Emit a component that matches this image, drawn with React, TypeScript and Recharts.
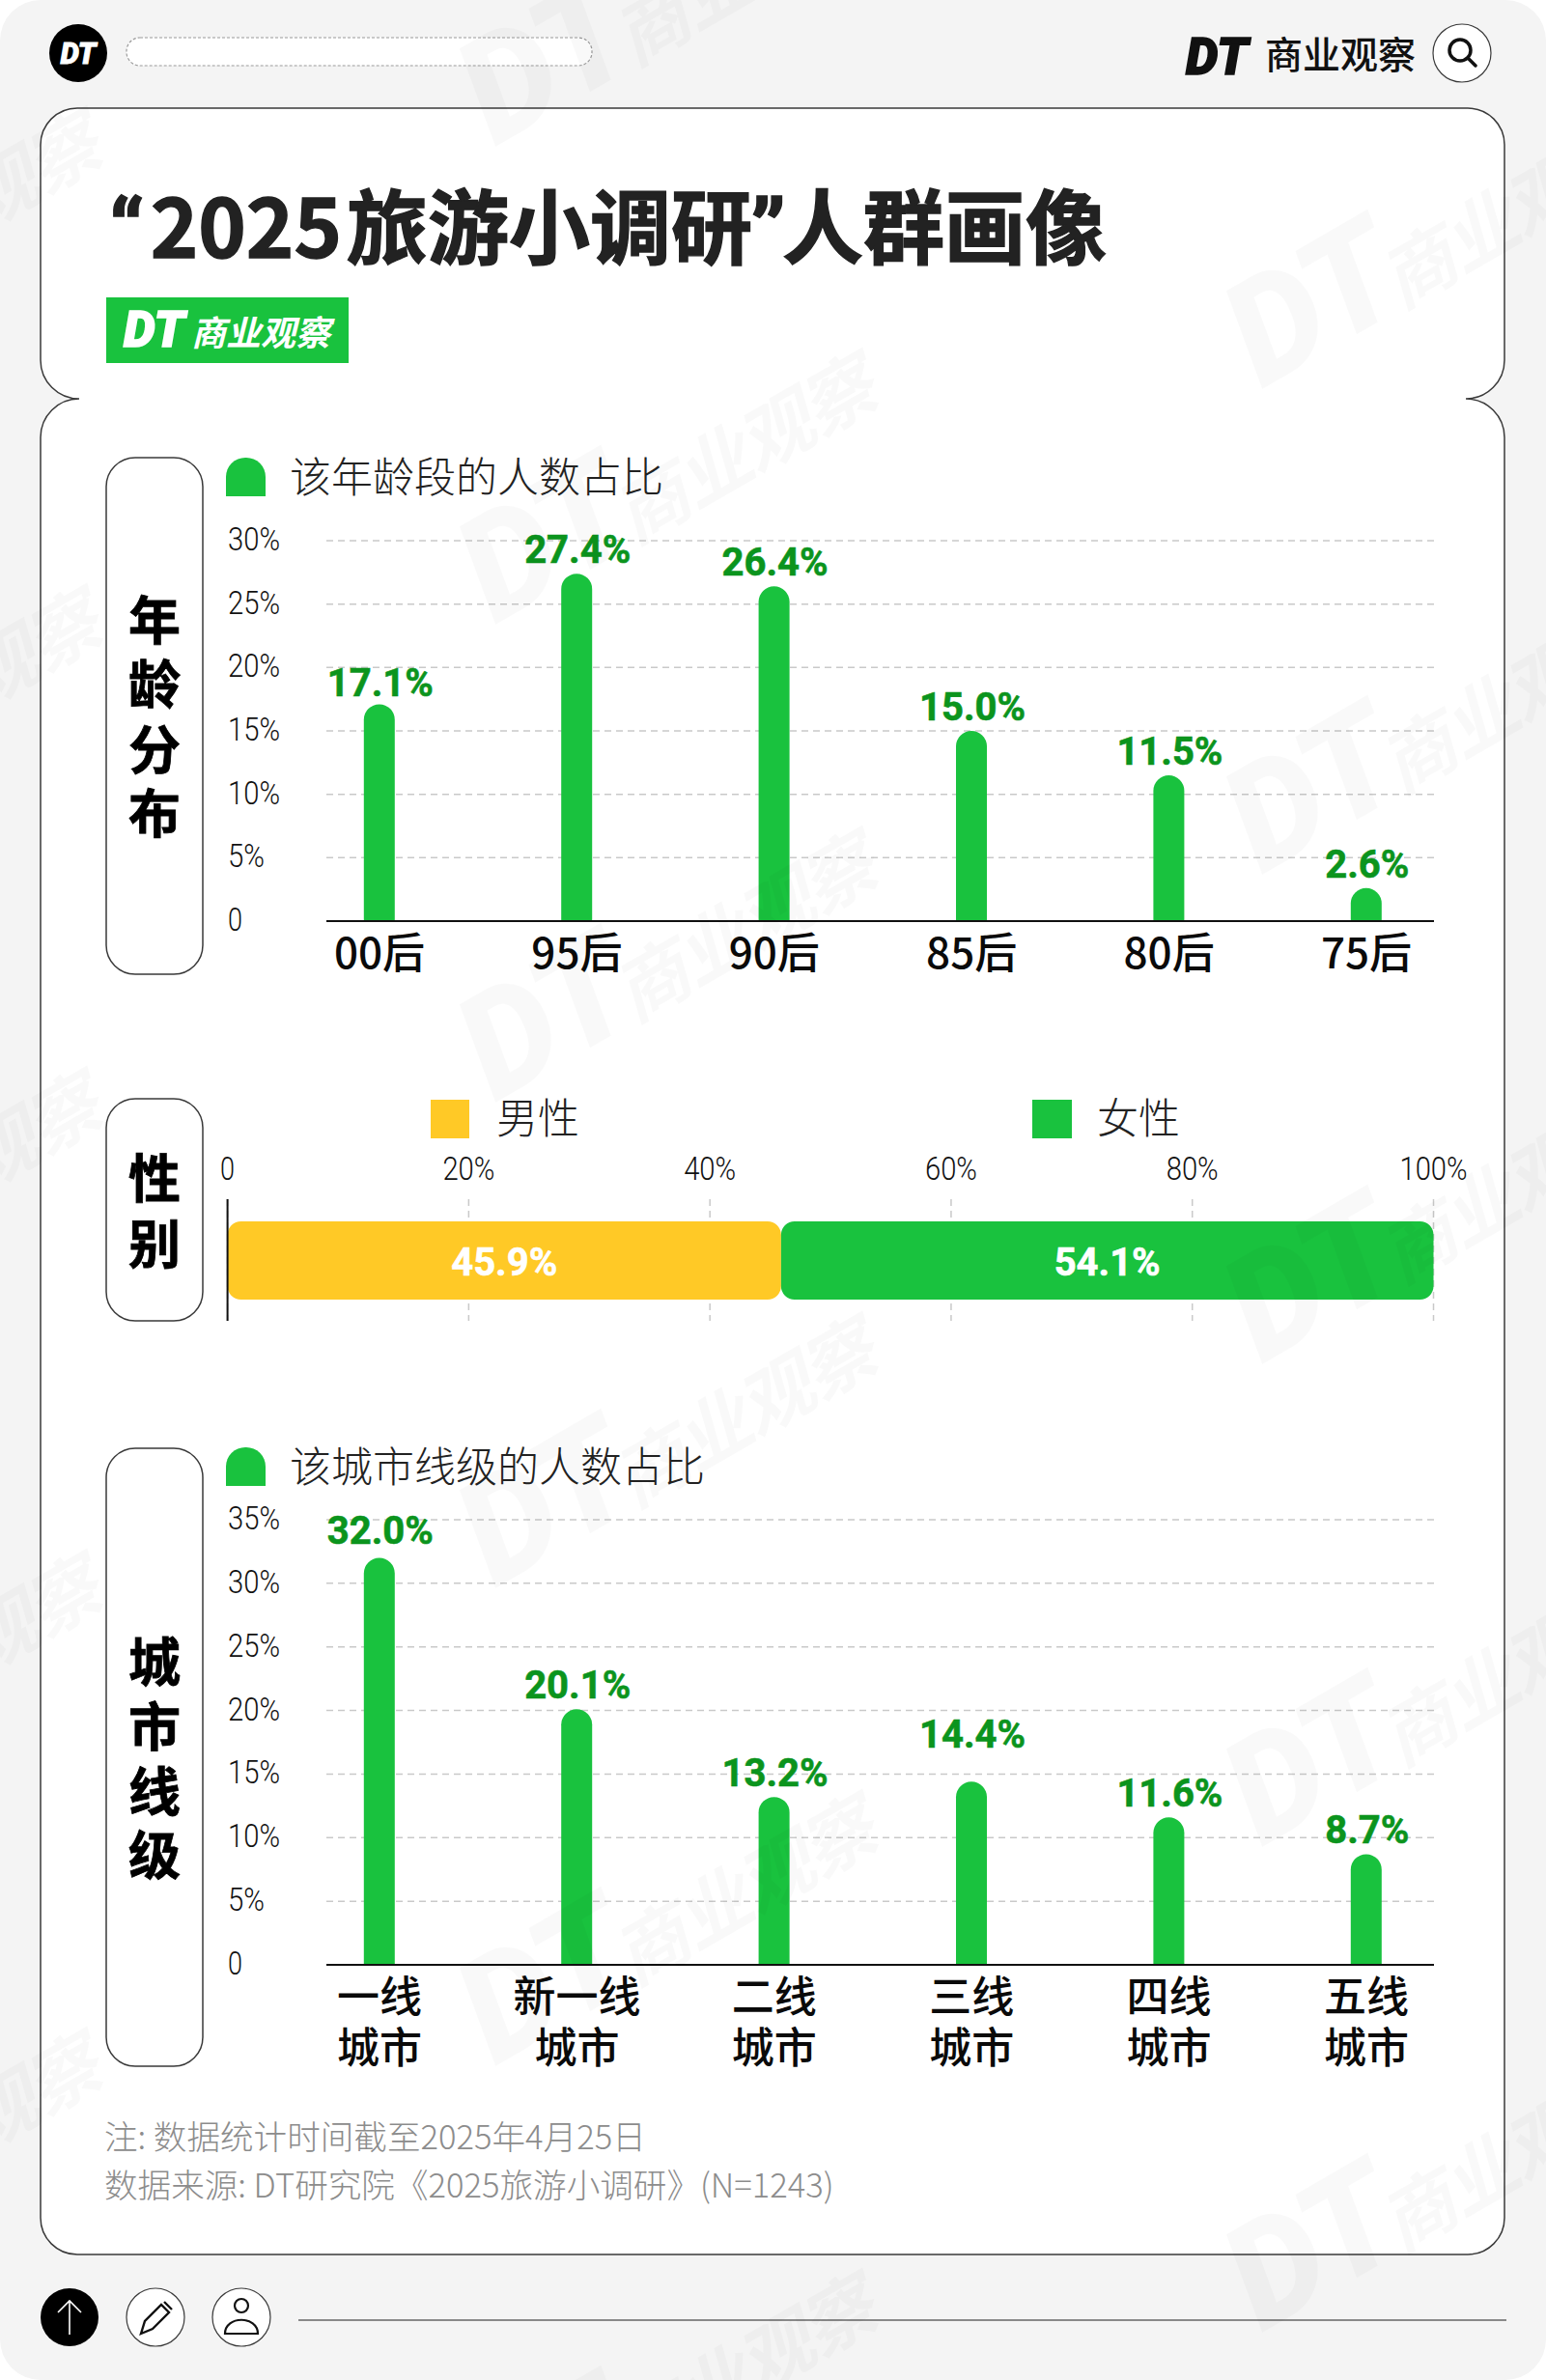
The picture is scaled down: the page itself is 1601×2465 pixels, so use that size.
import React from "react";
import { BarChart, Bar, XAxis, YAxis, CartesianGrid, LabelList } from "recharts";

// ---------- data ----------
const ageCategories = ["00后", "95后", "90后", "85后", "80后", "75后"];
const ageValues = [17.1, 27.4, 26.4, 15.0, 11.5, 2.6];
const ageTicks = [0, 5, 10, 15, 20, 25, 30];
const ageLabelLift = [-3, 0, 0, 0, 0, 0];

const genderNames = ["男性", "女性"];
const genderValues = [45.9, 54.1];
const genderTicks = [0, 20, 40, 60, 80, 100];

const cityLine1 = ["一线", "新一线", "二线", "三线", "四线", "五线"];
const cityLine2 = ["城市", "城市", "城市", "城市", "城市", "城市"];
const cityValues = [32.0, 20.1, 13.2, 14.4, 11.6, 8.7];
const cityTicks = [0, 5, 10, 15, 20, 25, 30, 35];
const cityLabelLift = [4, 0, 0, 24, 0, 0];

const ageData = ageCategories.map((name, i) => ({ name, value: ageValues[i] }));
const cityData = cityLine1.map((name, i) => ({ name, line2: cityLine2[i], value: cityValues[i] }));
const genderData = [{ name: "性别", male: genderValues[0], female: genderValues[1] }];

// ---------- styles ----------
const GREEN = "#19c23e";
const YELLOW = "#ffc926";
const LABEL_GREEN = "#0b941d";
const CJK = '"Noto Sans CJK SC", "Noto Sans", sans-serif';
const NUM = 'Roboto, "Noto Sans", sans-serif';
const THIN_WEIGHT = 300;

const pct = (v: number) => (v === 0 ? "0" : `${v}%`);
const tickLengths: Record<number, number> = { 1: 15, 2: 38, 3: 54, 4: 70 };

const YTick = (props: any) => {
  const s = pct(props.payload.value);
  return (
    <text x={props.x - 102} y={props.y + 10} textAnchor="start" fontFamily={NUM} fontWeight={THIN_WEIGHT}
      fontSize={34} textLength={tickLengths[s.length]} lengthAdjust="spacingAndGlyphs" fill="#111">
      {s}
    </text>
  );
};

const AgeTick = (props: any) => (
  <text x={props.x} y={props.y + 49} textAnchor="middle" fontFamily={CJK} fontWeight={500} fontSize={44} fill="#0a0a0a">
    {props.payload.value}
  </text>
);

const CityTick = (props: any) => (
  <g>
    <text x={props.x} y={props.y + 49} textAnchor="middle" fontFamily={CJK} fontWeight={500} fontSize={44} fill="#0a0a0a">
      {props.payload.value}
    </text>
    <text x={props.x} y={props.y + 102} textAnchor="middle" fontFamily={CJK} fontWeight={500} fontSize={44} fill="#0a0a0a">
      {cityLine2[props.index]}
    </text>
  </g>
);

const GenderTick = (props: any) => {
  const s = pct(props.payload.value);
  return (
    <text x={props.x} y={props.y - 20} textAnchor="middle" fontFamily={NUM} fontWeight={THIN_WEIGHT} fontSize={34}
      textLength={tickLengths[s.length]} lengthAdjust="spacingAndGlyphs" fill="#111">
      {s}
    </text>
  );
};

const makeTopLabel = (lift: number[]) => (props: any) => (
  <text x={props.x + props.width / 2 + 1} y={props.y - 11 - lift[props.index]} textAnchor="middle" fontFamily={NUM}
    fontWeight={700} fontSize={40} stroke={LABEL_GREEN} strokeWidth={0.6} fill={LABEL_GREEN}>
    {Number(props.value).toFixed(1)}%
  </text>
);

const CenterLabel = (props: any) => (
  <text x={props.x + props.width / 2} y={props.y + props.height / 2 + 15} textAnchor="middle" fontFamily={NUM}
    fontWeight={700} fontSize={40} stroke="#fff" strokeWidth={0.6} fill="#fff">
    {Number(props.value).toFixed(1)}%
  </text>
);

const grid = { stroke: "#c9c9c9", strokeDasharray: "7 5", strokeWidth: 1.5 };

function ColumnChart({ top, height, plotTop, plotBottom, data, ticks, max, tick, lift, axisHeight }: any) {
  return (
    <div style={{ position: "absolute", left: 200, top }}>
      <BarChart width={1300} height={height} data={data}
        margin={{ left: 36, right: 15, top: plotTop - top, bottom: height - (plotBottom - top) - axisHeight }}>
        <CartesianGrid vertical={false} {...grid} />
        <XAxis dataKey="name" scale="point" padding={{ left: 55, right: 70 }} height={axisHeight} interval={0}
          tickLine={false} tickSize={0} tickMargin={0} axisLine={{ stroke: "#111", strokeWidth: 2 }} tick={tick} />
        <YAxis type="number" domain={[0, max]} ticks={ticks} width={102} axisLine={false} tickLine={false}
          tickSize={0} tickMargin={0} tick={YTick} interval={0} />
        <Bar dataKey="value" fill={GREEN} barSize={32} radius={[16, 16, 0, 0]} isAnimationActive={false}>
          <LabelList dataKey="value" content={makeTopLabel(lift)} />
        </Bar>
      </BarChart>
    </div>
  );
}

function GenderChart() {
  return (
    <div style={{ position: "absolute", left: 200, top: 1170 }}>
      <BarChart width={1320} height={200} layout="vertical" data={genderData}
        margin={{ left: 34.6, right: 35.5, top: 20, bottom: 2 }}>
        <CartesianGrid horizontal={false} {...grid} />
        <XAxis type="number" orientation="top" domain={[0, 100]} ticks={genderTicks} height={52} interval={0}
          axisLine={false} tickLine={false} tickSize={0} tickMargin={0} tick={GenderTick} />
        <YAxis type="category" dataKey="name" width={1} tick={false} tickLine={false}
          axisLine={{ stroke: "#111", strokeWidth: 2 }} />
        <Bar dataKey="male" stackId="a" fill={YELLOW} barSize={81} radius={14} isAnimationActive={false}>
          <LabelList dataKey="male" content={CenterLabel} />
        </Bar>
        <Bar dataKey="female" stackId="a" fill={GREEN} barSize={81} radius={14} isAnimationActive={false}>
          <LabelList dataKey="female" content={CenterLabel} />
        </Bar>
      </BarChart>
    </div>
  );
}

const LINE = "#3a3a3a";

function Pill({ y, h, chars, centers }: { y: number; h: number; chars: string; centers: number[] }) {
  return (
    <g>
      <rect x={110} y={y} width={100} height={h} rx={30} fill="#fff" stroke={LINE} strokeWidth={1.5} />
      {chars.split("").map((c, i) => (
        <text key={i} x={160} y={centers[i] + 21} textAnchor="middle" fontFamily={CJK} fontWeight={700} fontSize={54}
          stroke="#000" strokeWidth={0.8} fill="#000">
          {c}
        </text>
      ))}
    </g>
  );
}

const Swatch = ({ y }: { y: number }) => (
  <path d={`M234 ${y + 40} V${y + 20} A20 20 0 0 1 254 ${y} H255 A20 20 0 0 1 275 ${y + 20} V${y + 40} Z`} fill={GREEN} />
);

const LegendText = ({ x, y, children }: any) => (
  <text x={x} y={y} fontFamily={CJK} fontWeight={THIN_WEIGHT} fontSize={43} fill="#222">{children}</text>
);

const markRows = [
  [-290, 396], [-290, 891], [-290, 1391], [-290, 1891], [-290, 2386],
  [513, 152], [513, 647], [513, 1142], [513, 1645], [513, 2140], [513, 2636],
  [1307, 403], [1307, 906], [1307, 1413], [1307, 1913], [1307, 2416],
];

function Watermark({ x, y }: { x: number; y: number }) {
  return (
    <g transform={`translate(${x} ${y}) rotate(-30)`} fill="#000" fillOpacity={0.025}>
      <text x={0} y={0} fontFamily={NUM} fontWeight={900} fontStyle="italic" fontSize={150}>DT</text>
      <text x={165} y={0} fontFamily={CJK} fontWeight={700} fontStyle="italic" fontSize={76} letterSpacing={-2}>商业观察</text>
    </g>
  );
}

export default function App() {
  return (
    <div style={{ position: "absolute", left: 0, top: 0, width: 1601, height: 2465, background: "#fff", overflow: "hidden" }}>
      <svg width={1601} height={2465} style={{ position: "absolute", left: 0, top: 0 }}>
        <rect x={0} y={0} width={1601} height={2465} rx={42} fill="#f4f4f4" />

        {/* top bar */}
        <circle cx={81} cy={55} r={30} fill="#000" />
        <text x={81} y={66} textAnchor="middle" fontFamily={NUM} fontWeight={900} fontStyle="italic" fontSize={31}
          stroke="#fff" strokeWidth={0.8} fill="#fff">DT</text>
        <rect x={131} y={39} width={482} height={29} rx={14} fill="#fff" stroke="#9a9a9a" strokeWidth={1.2} strokeDasharray="3 2" />
        <text x={1228} y={77} fontFamily={NUM} fontWeight={900} fontStyle="italic" fontSize={53} letterSpacing={1}
          stroke="#111" strokeWidth={1.6} fill="#111">DT</text>
        <text x={1310} y={71} fontFamily={CJK} fontWeight={500} fontSize={39} fill="#111">商业观察</text>
        <circle cx={1514} cy={55} r={30} fill="#fff" stroke={LINE} strokeWidth={1.2} />
        <circle cx={1512} cy={52} r={11} fill="none" stroke="#111" strokeWidth={3.5} />
        <line x1={1520} y1={60} x2={1528} y2={68} stroke="#111" strokeWidth={3.5} strokeLinecap="round" />

        {/* card */}
        <path
          d="M80 112 H1520 A38 38 0 0 1 1558 150 V373 A40 40 0 0 1 1518 413 A40 40 0 0 1 1558 453 V2297 A38 38 0 0 1 1520 2335 H80 A38 38 0 0 1 42 2297 V453 A40 40 0 0 1 82 413 A40 40 0 0 1 42 373 V150 A38 38 0 0 1 80 112 Z"
          fill="#fff" stroke={LINE} strokeWidth={1.5} />

        {/* title */}
        <text x={113} y={267} fontFamily={CJK} fontWeight={700} fontSize={84} fill="#222" stroke="#222" strokeWidth={1.4}>
          <tspan fontFamily={NUM} fontWeight={900} fontSize={86}>“</tspan>
          <tspan dx={6}>2025</tspan>
          <tspan dx={5}>旅游小调研</tspan>
          <tspan fontFamily={NUM} fontWeight={900} fontSize={86} dx={-2}>”</tspan>
          <tspan dx={-4}>人群画像</tspan>
        </text>
        <rect x={110} y={308} width={251} height={68} fill={GREEN} />
        <text x={128} y={359} fontFamily={NUM} fontWeight={900} fontStyle="italic" fontSize={52} letterSpacing={1}
          stroke="#fff" strokeWidth={1.6} fill="#fff">DT</text>
        <text x={198} y={358} fontFamily={CJK} fontWeight={700} fontStyle="italic" fontSize={36} fill="#fff">商业观察</text>

        {/* section frames and legends */}
        <Pill y={474} h={535} chars="年龄分布" centers={[642, 708, 776, 842]} />
        <Swatch y={474} />
        <LegendText x={300} y={510}>该年龄段的人数占比</LegendText>

        <Pill y={1138} h={230} chars="性别" centers={[1220, 1288]} />
        <rect x={446} y={1139} width={40} height={40} fill={YELLOW} />
        <LegendText x={514} y={1174}>{genderNames[0]}</LegendText>
        <rect x={1069} y={1139} width={41} height={40} fill={GREEN} />
        <LegendText x={1136} y={1174}>{genderNames[1]}</LegendText>

        <Pill y={1500} h={640} chars="城市线级" centers={[1721, 1788, 1855, 1921]} />
        <Swatch y={1499} />
        <LegendText x={300} y={1535}>该城市线级的人数占比</LegendText>

        {/* notes */}
        <text x={108} y={2226} fontFamily={CJK} fontWeight={THIN_WEIGHT} fontSize={34.6} fill="#8c8c8c">注: 数据统计时间截至2025年4月25日</text>
        <text x={108} y={2276} fontFamily={CJK} fontWeight={THIN_WEIGHT} fontSize={34.6} fill="#8c8c8c">数据来源: DT研究院《2025旅游小调研》(N=1243)</text>

        {/* bottom bar */}
        <circle cx={72} cy={2400} r={30} fill="#000" />
        <path d="M72 2418 V2383 M60 2395 L72 2383 L84 2395" fill="none" stroke="#fff" strokeWidth={1.6} />
        <circle cx={161} cy={2400} r={30} fill="#fff" stroke={LINE} strokeWidth={1.2} />
        <path d="M146 2417 L150 2404 L167 2387 L175 2395 L158 2412 Z M170 2384 L178 2392" fill="none" stroke="#111" strokeWidth={2.4} />
        <circle cx={250} cy={2400} r={30} fill="#fff" stroke={LINE} strokeWidth={1.2} />
        <circle cx={250} cy={2388} r={7} fill="none" stroke="#111" strokeWidth={2.2} />
        <path d="M233 2417 C233 2398 267 2398 267 2417 Z" fill="none" stroke="#111" strokeWidth={2.2} />
        <line x1={309} y1={2403} x2={1560} y2={2403} stroke="#666" strokeWidth={1.5} />
      </svg>

      <ColumnChart top={540} height={490} plotTop={560} plotBottom={954} data={ageData} ticks={ageTicks} max={30}
        tick={AgeTick} lift={ageLabelLift} axisHeight={56} />
      <GenderChart />
      <ColumnChart top={1555} height={620} plotTop={1574} plotBottom={2035} data={cityData} ticks={cityTicks} max={35}
        tick={CityTick} lift={cityLabelLift} axisHeight={110} />

      <svg width={1601} height={2465} style={{ position: "absolute", left: 0, top: 0, pointerEvents: "none" }}>
        {markRows.map(([x, y], i) => <Watermark key={i} x={x} y={y} />)}
      </svg>
    </div>
  );
}
